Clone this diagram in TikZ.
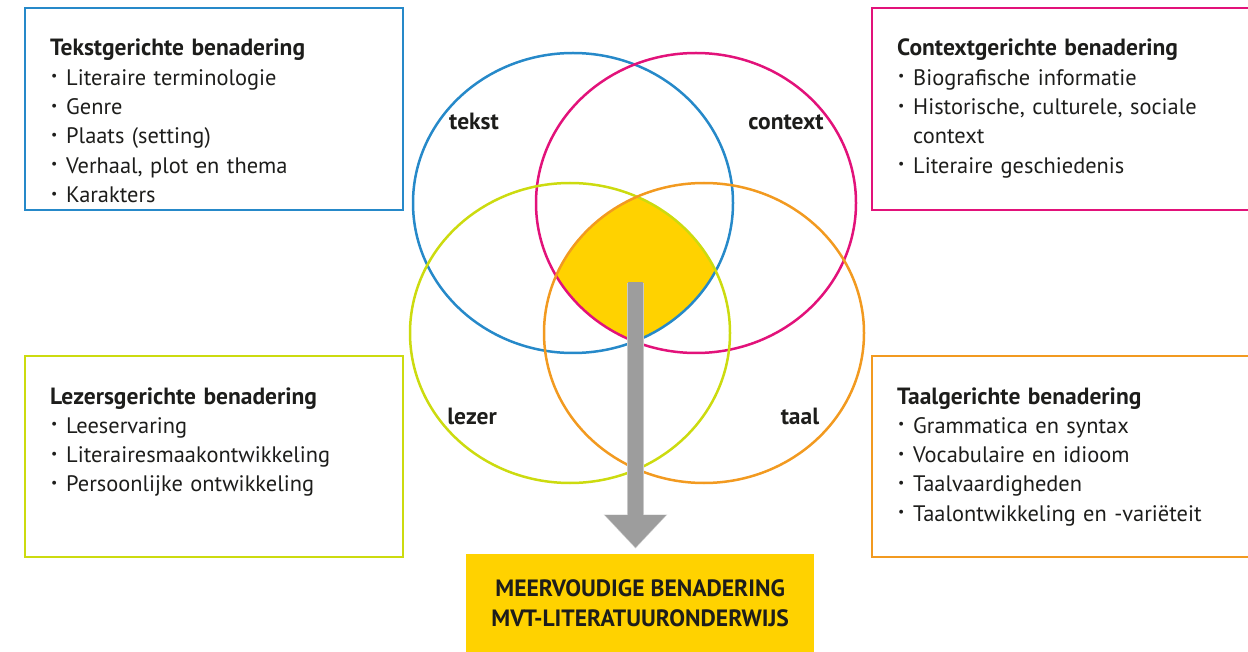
\documentclass[tikz,border=0pt]{standalone}
\usepackage{fontspec}
\setmainfont{PT Sans}
\usetikzlibrary{arrows.meta,shapes.geometric}
\definecolor{cblue}{RGB}{38,137,201}
\definecolor{cmag}{RGB}{226,18,122}
\definecolor{clime}{RGB}{204,219,15}
\definecolor{corange}{RGB}{242,154,32}
\definecolor{cyellow}{RGB}{255,210,0}
\definecolor{cgray}{RGB}{157,157,157}
\definecolor{cgrayedge}{RGB}{200,200,200}
\definecolor{ctext}{RGB}{29,29,27}
\newcommand{\bul}{\makebox[16pt][l]{\hspace{1pt}\raisebox{0.2em}{\scalebox{0.62}{\textbullet}}}}
\newcommand{\bulsp}{\hspace*{16pt}}
\newcommand{\ttl}[1]{{\fontsize{23.5}{29.3}\selectfont\bfseries #1}}
\tikzset{
  box/.style={draw, line width=2.5pt},
  ring/.style={draw, line width=2.5pt, ellipse, minimum width=320pt, minimum height=300pt, inner sep=0pt},
  boxtext/.style={anchor=base west, inner sep=0pt, text width=345pt, align=left,
    font=\fontsize{22.4}{29.3}\selectfont, text=ctext},
  lbl/.style={anchor=base, inner sep=0pt, font=\fontsize{23.5}{28}\selectfont\bfseries, text=ctext},
  oval/.style={x radius=160pt, y radius=150pt},
}
\begin{document}
\begin{tikzpicture}[x=1pt,y=-1pt]
\useasboundingbox (0,0) rectangle (1248,652);
% boxes
\draw[box, cblue] (25,8) rectangle (403,210);
\draw[box, cmag] (872,8) rectangle (1260,210);
\draw[box, clime] (25,356) rectangle (403,557);
\draw[box, corange] (872,356) rectangle (1260,557);
% yellow intersection
\begin{scope}
\clip (573,203) ellipse[oval];
\clip (696,203) ellipse[oval];
\clip (570,333) ellipse[oval];
\clip (704,333) ellipse[oval];
\fill[cyellow] (400,100) rectangle (900,500);
\end{scope}
% circles
\node[ring, cblue] (tekst) at (573,203) {};
\node[ring, cmag] (context) at (696,203) {};
\node[ring, clime] (lezer) at (570,333) {};
\node[ring, corange] (taal) at (704,333) {};
% labels
\node[lbl] (ltekst) at (474,130) {tekst};
\node[lbl] (lcontext) at (786,130) {context};
\node[lbl] (llezer) at (472,424) {lezer};
\node[lbl] (ltaal) at (800,424) {taal};
% box texts
\node[boxtext] (t1) at (50,56) {\ttl{Tekstgerichte benadering}\\
\bul Literaire terminologie\\
\bul Genre\\
\bul Plaats (setting)\\
\bul Verhaal, plot en thema\\
\bul Karakters};
\node[boxtext] (t2) at (897,56) {\ttl{Contextgerichte benadering}\\
\bul Biografische informatie\\
\bul Historische, culturele, sociale\\
\bulsp context\\
\bul Literaire geschiedenis};
\node[boxtext] (t3) at (50,404) {\ttl{Lezersgerichte benadering}\\
\bul Leeservaring\\
\bul Literairesmaakontwikkeling\\
\bul Persoonlijke ontwikkeling};
\node[boxtext] (t4) at (897,404) {\ttl{Taalgerichte benadering}\\
\bul Grammatica en syntax\\
\bul Vocabulaire en idioom\\
\bul Taalvaardigheden\\
\bul Taalontwikkeling en -variëteit};
% result box
\node[fill=cyellow, minimum width=348pt, minimum height=98pt, inner sep=0pt, anchor=north west,
  align=center, font=\fontsize{23.6}{30}\selectfont\bfseries, text=ctext] (result) at (466,554)
  {MEERVOUDIGE BENADERING\\MVT-LITERATUURONDERWIJS};
% arrow
\coordinate (astart) at (635.5,283);
\draw[cgrayedge, line width=17.5pt, -{Triangle[width=61.5pt,length=34pt]}, shorten >=5.5pt] (astart) -- (astart |- result.north);
\draw[cgray, line width=15.5pt, -{Triangle[width=59pt,length=32.5pt]}, shorten >=6.5pt] ([yshift=0.8pt]astart) -- (astart |- result.north);
\end{tikzpicture}
\end{document}
